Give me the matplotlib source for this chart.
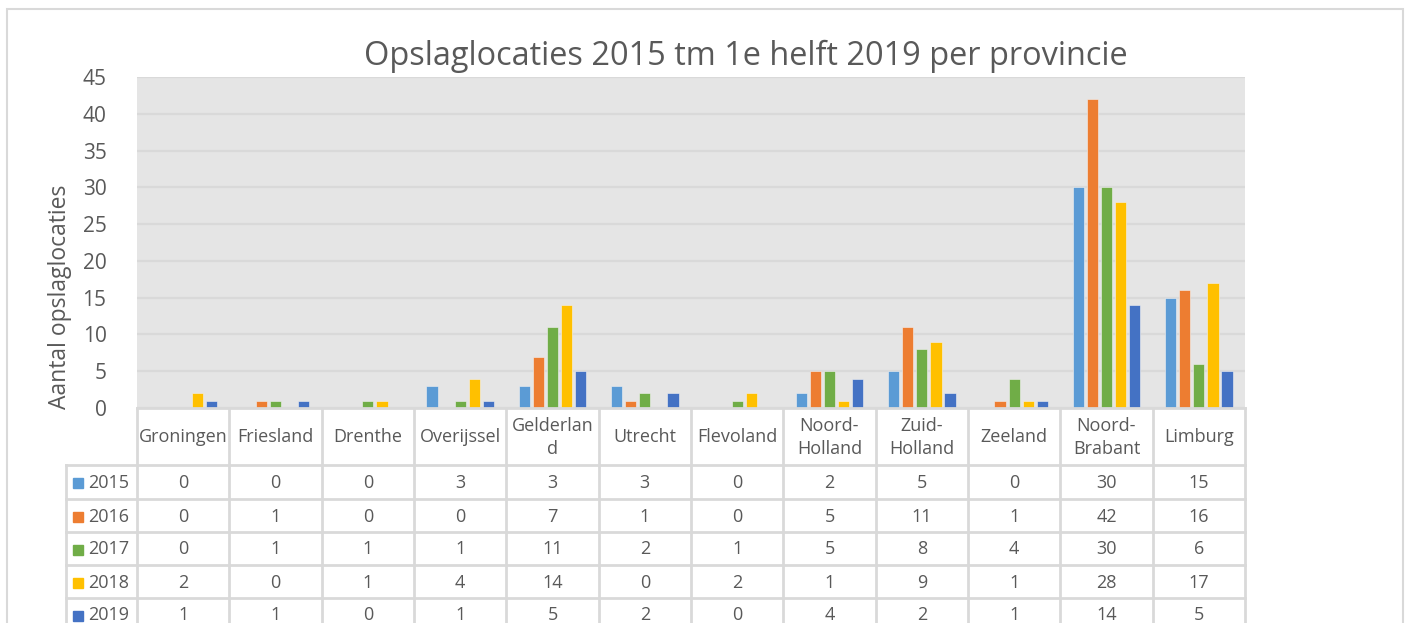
import matplotlib.pyplot as plt
import matplotlib.transforms as mtransforms
from matplotlib.lines import Line2D
from matplotlib.patches import Rectangle

plt.rcParams['font.family'] = ['Open Sans', 'DejaVu Sans']

provinces = ['Groningen', 'Friesland', 'Drenthe', 'Overijssel', 'Gelderland', 'Utrecht',
             'Flevoland', 'Noord-Holland', 'Zuid-Holland', 'Zeeland', 'Noord-Brabant', 'Limburg']
header_labels = ['Groningen', 'Friesland', 'Drenthe', 'Overijssel', 'Gelderlan\nd', 'Utrecht',
                 'Flevoland', 'Noord-\nHolland', 'Zuid-\nHolland', 'Zeeland', 'Noord-\nBrabant', 'Limburg']
years = ['2015', '2016', '2017', '2018', '2019']
v2015 = [0, 0, 0, 3, 3, 3, 0, 2, 5, 0, 30, 15]
v2016 = [0, 1, 0, 0, 7, 1, 0, 5, 11, 1, 42, 16]
v2017 = [0, 1, 1, 1, 11, 2, 1, 5, 8, 4, 30, 6]
v2018 = [2, 0, 1, 4, 14, 0, 2, 1, 9, 1, 28, 17]
v2019 = [1, 1, 0, 1, 5, 2, 0, 4, 2, 1, 14, 5]
series = [v2015, v2016, v2017, v2018, v2019]
colors = ['#5B9BD5', '#ED7D31', '#70AD47', '#FFC000', '#4472C4']

W, H = 1408, 623
TXT = '#595959'
GRID = '#D9D9D9'

fig = plt.figure(figsize=(W / 100, H / 100), dpi=100)


def fx(x):
    return x / W


def fy(y):
    return 1 - y / H


# outer chart border
fig.add_artist(Rectangle((fx(7), fy(640)), fx(1403) - fx(7), fy(9) - fy(640),
                         transform=fig.transFigure, fill=False, edgecolor=GRID, lw=1.5))

left, right, top, bottom = 137, 1245, 77, 408
ax = fig.add_axes([fx(left), fy(bottom), fx(right) - fx(left), fy(top) - fy(bottom)])
ax.set_facecolor('#E5E5E5')

x = list(range(len(provinces)))
width = 0.122
step = 0.152
for i, (vals, c) in enumerate(zip(series, colors)):
    pos = [k + (i - 2) * step for k in x]
    ax.bar(pos, vals, width=width, color=c, edgecolor='#F2F2F2', linewidth=0.4, zorder=3)

ax.set_xlim(-0.5, len(provinces) - 0.5)
ax.set_ylim(0, 45)
ax.set_yticks(range(0, 46, 5))
ax.set_xticks([])
ax.yaxis.grid(True, color=GRID, lw=1.6)
ax.set_axisbelow(True)
for s in ax.spines.values():
    s.set_visible(False)
ax.tick_params(axis='y', length=0, pad=22, labelsize=15, labelcolor=TXT)

fig.text(fx(746), fy(56), 'Opslaglocaties 2015 tm 1e helft 2019 per provincie',
         ha='center', va='center', fontsize=23.4, color=TXT)
fig.text(fx(60), fy(297), 'Aantal opslaglocaties', rotation=90,
         ha='center', va='center', fontsize=16.5, color=TXT)

# data table
trans = mtransforms.blended_transform_factory(ax.transData, fig.transFigure)
row_lines = [465, 499, 532, 565, 598, 631]
label_left = 66


def hline(x0, x1, y):
    fig.add_artist(Line2D([fx(x0), fx(x1)], [fy(y), fy(y)], transform=fig.transFigure,
                          color=GRID, lw=2))


def vline(xp, y0, y1):
    fig.add_artist(Line2D([fx(xp), fx(xp)], [fy(y0), fy(y1)], transform=fig.transFigure,
                          color=GRID, lw=2))


hline(left, right, bottom)
for y in row_lines:
    hline(label_left, right, y)
vline(label_left, row_lines[0], 640)
col_w = (right - left) / len(provinces)
for k in range(len(provinces) + 1):
    vline(left + k * col_w, bottom, 640)

for k, lab in enumerate(header_labels):
    fig.text(k, fy((bottom + row_lines[0]) / 2 + 1), lab, transform=trans,
             ha='center', va='center', fontsize=13, color=TXT, linespacing=1.3)

for r, (yr, vals, c) in enumerate(zip(years, series, colors)):
    yc = (row_lines[r] + row_lines[r + 1]) / 2 + 1
    fig.add_artist(Rectangle((fx(73), fy(yc + 5)), fx(10), fy(0) - fy(10),
                             transform=fig.transFigure, color=c))
    fig.text(fx(88), fy(yc), yr, ha='left', va='center', fontsize=13, color=TXT)
    for k, v in enumerate(vals):
        fig.text(k, fy(yc), str(v), transform=trans, ha='center', va='center',
                 fontsize=13, color=TXT)

fig.savefig('out.png', dpi=100, facecolor='white')
